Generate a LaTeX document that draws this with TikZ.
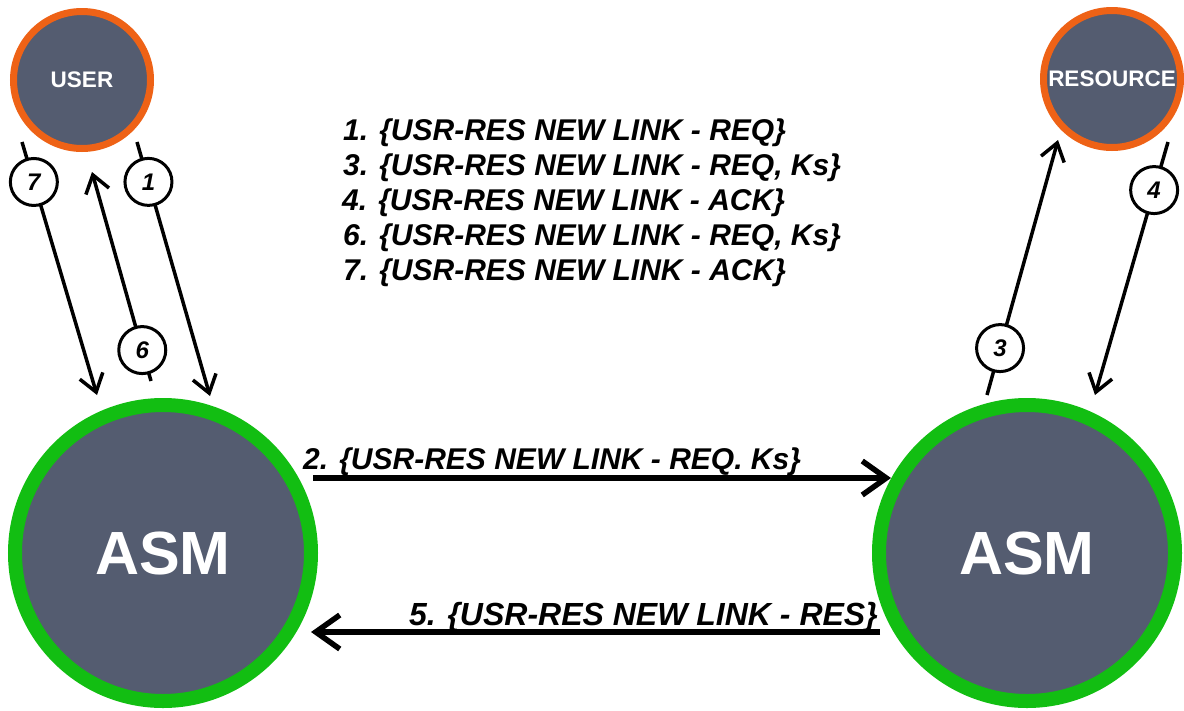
\documentclass[tikz,border=0pt]{standalone}
\usepackage{fontspec}
\setmainfont{Liberation Sans}
\usetikzlibrary{arrows.meta}
\definecolor{slate}{RGB}{84,92,112}
\definecolor{ringorange}{RGB}{238,98,22}
\definecolor{ringgreen}{RGB}{18,190,18}
\begin{document}
\begin{tikzpicture}[x=1pt,y=-1pt,
  agent/.style={circle, fill=slate, draw=ringorange, line width=7pt,
    minimum size=137pt, inner sep=0pt, text=white,
    font=\bfseries\fontsize{22.5}{26}\selectfont},
  manager/.style={circle, fill=slate, draw=ringgreen, line width=14pt,
    minimum size=296pt, inner sep=0pt, text=white,
    font=\bfseries\fontsize{61}{70}\selectfont},
  msg/.style={line width=3.5pt, -{Straight Barb[length=17pt,width=24pt]}},
  bigmsg/.style={line width=5.5pt, -{Straight Barb[length=24pt,width=34pt]}},
  num/.style={circle, draw=black, fill=white, line width=3pt,
    minimum size=47pt, inner sep=0pt,
    font=\bfseries\itshape\fontsize{24}{28}\selectfont},
  lbl/.style={inner sep=0pt, font=\bfseries\itshape\fontsize{30}{35}\selectfont}]

\useasboundingbox[fill=white] (0,0) rectangle (1184,710);

% participants
\node[agent] (user) at (82,80) {USER};
\node[agent] (res) at (1112,79) {RESOURCE};
\node[manager] (asmL) at (163,553) {ASM};
\node[manager] (asmR) at (1027,553) {ASM};

% end points of the short exchanges
\coordinate (u7) at (22,142);   \coordinate (a7) at (97,395);
\coordinate (u1) at (137,142);  \coordinate (a1) at (210,396);
\coordinate (a6) at (151,381);  \coordinate (u6) at (92,172);
\coordinate (a3) at (987,395);  \coordinate (r3) at (1058,140);
\coordinate (r4) at (1168,142); \coordinate (a4) at (1095,395);

% end points of the exchanges between the two managers
\coordinate (l2) at (313,478);  \coordinate (r2) at (891,478);
\coordinate (r5) at (880,632);  \coordinate (l5) at (311,632);

% user / resource exchanges
\draw[msg] (u7) -- node[num, pos=0.158] (n7) {7} (a7);
\draw[msg] (u1) -- node[num, pos=0.157] (n1) {1} (a1);
\draw[msg] (a6) -- node[num, pos=0.148] (n6) {6} (u6);
\draw[msg] (a3) -- node[num, pos=0.184] (n3) {3} (r3);
\draw[msg] (r4) -- node[num, pos=0.19] (n4) {4} (a4);

% manager to manager
\draw[bigmsg] (l2) -- (r2);
\draw[bigmsg] (r5) -- (l5);
\node[lbl, anchor=base west] (t2) at (303,469) {2. \{USR-RES NEW LINK - REQ. Ks\}};
\node[lbl, anchor=base east, font=\bfseries\itshape\fontsize{32}{36}\selectfont]
  (t5) at (878,625) {5. \{USR-RES NEW LINK - RES\}};

% message legend
\node[lbl, anchor=base west] (m1) at (343,140) {1. \{USR-RES NEW LINK - REQ\}};
\node[lbl, anchor=base west] (m3) at (343,175) {3. \{USR-RES NEW LINK - REQ, Ks\}};
\node[lbl, anchor=base west] (m4) at (342,210) {4. \{USR-RES NEW LINK - ACK\}};
\node[lbl, anchor=base west] (m6) at (343,245) {6. \{USR-RES NEW LINK - REQ, Ks\}};
\node[lbl, anchor=base west] (m7) at (343,280) {7. \{USR-RES NEW LINK - ACK\}};
\end{tikzpicture}
\end{document}
